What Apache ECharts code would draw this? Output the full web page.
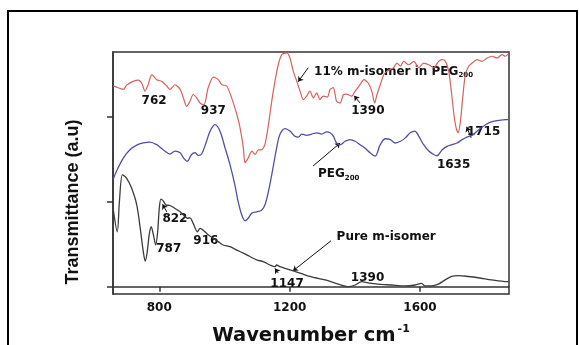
<!DOCTYPE html>
<html><head><meta charset="utf-8">
<script src="https://cdn.jsdelivr.net/npm/echarts@6/dist/echarts.min.js"></script>
<style>
html,body{margin:0;padding:0;background:#fff}
#c{width:579px;height:345px;position:absolute;left:0;top:0}
#frame{position:absolute;left:7px;top:10px;width:567px;height:345px;border:2px solid #000;border-bottom:none;pointer-events:none}
</style>
</head><body><div id="c"></div><div id="frame"></div>
<script>
// Axis ticks
const xTicks = [800, 1200, 1600];
const yTicks = [0, 20, 40];

// 11% m-isomer in PEG200 (red)
const redW = [659,674,690,700,720,736,746,756,766,777,792,807,823,833,848,864,874,884,894,904,915,925,937,950,966,981,992,1007,1022,1038,1048,1058,1063,1073,1084,1094,1104,1114,1124,1135,1145,1155,1165,1176,1191,1201,1211,1222,1232,1242,1252,1262,1273,1283,1293,1303,1316,1324,1334,1344,1355,1365,1375,1390,1401,1416,1428,1441,1452,1461,1468,1478,1489,1499,1509,1519,1529,1540,1550,1565,1581,1596,1611,1627,1642,1657,1668,1678,1688,1696,1704,1711,1717,1724,1731,1739,1750,1760,1775,1790,1806,1821,1836,1852,1862,1872];
const redT = [47.2,46.8,46.4,47.4,48.3,48.6,47.9,46.0,47.5,49.9,48.7,48.3,47.2,46.4,47.5,46.4,44.4,42.4,43.6,45.2,44.4,43.2,42.8,46.8,49.3,48.7,47.5,47.2,44.4,40.5,37.3,32.6,29.1,30.3,31.9,31.1,32.2,32.2,33.4,38.1,43.6,48.3,52.2,54.6,55.0,53.8,50.7,48.3,46.0,44.0,44.8,46.0,44.4,45.6,44.0,44.8,44.6,46.4,46.8,43.6,43.2,45.2,45.3,44.8,46.0,47.5,48.7,47.9,46.0,43.2,45.2,47.5,49.9,50.7,51.1,51.5,52.6,51.9,53.0,52.2,53.0,51.5,52.6,52.2,51.5,53.0,53.4,53.0,50.7,46.0,40.5,37.3,36.2,38.9,44.4,49.9,51.9,52.6,53.4,53.0,53.8,54.2,53.8,54.6,54.2,54.8];

// PEG200 (blue)
const blueW = [659,669,690,710,731,751,771,792,812,833,848,864,874,886,899,910,920,930,945,956,971,986,1002,1017,1032,1042,1053,1063,1073,1084,1099,1114,1124,1135,1145,1160,1170,1186,1201,1216,1227,1237,1252,1268,1283,1298,1314,1324,1334,1344,1355,1370,1385,1401,1416,1431,1447,1462,1478,1494,1509,1524,1540,1555,1570,1584,1596,1611,1627,1642,1652,1668,1683,1698,1714,1729,1744,1760,1780,1801,1821,1842,1862,1872];
const blueT = [25.3,27.2,30.3,32.2,33.3,33.8,34.0,33.4,32.2,31.2,31.9,31.5,30.3,29.5,31.1,31.5,30.9,31.2,34.2,36.6,38.1,36.6,32.6,28.7,23.9,20.0,16.9,15.5,16.1,17.3,17.6,18.0,19.2,22.4,26.3,32.6,35.8,37.2,36.6,35.4,35.2,35.9,35.6,35.9,36.2,35.9,36.4,36.2,35.4,33.8,33.4,34.2,34.6,34.2,33.4,32.6,31.5,30.7,33.4,34.8,34.6,33.8,34.2,35.0,36.2,36.6,35.4,33.4,31.9,31.1,30.8,32.2,33.0,33.4,33.8,34.6,35.2,35.6,36.9,38.1,38.8,39.1,39.3,39.3];

// Pure m-isomer (black)
const blackW = [659,671,678,687,700,715,731,743,751,757,763,769,775,782,789,795,800,805,812,821,833,848,864,879,886,894,904,917,925,935,950,966,981,996,1017,1038,1058,1078,1099,1119,1140,1155,1160,1170,1191,1211,1232,1262,1278,1309,1349,1380,1401,1421,1441,1472,1513,1554,1585,1605,1615,1636,1656,1677,1697,1718,1748,1779,1820,1861,1871];
const blackT = [18.0,12.9,20.4,26.3,25.5,23.2,19.2,12.9,8.2,6.0,8.2,12.2,14.1,12.2,9.8,12.9,18.4,20.6,20.2,19.2,19.1,18.4,17.6,16.5,16.1,16.2,14.9,12.9,13.7,13.3,12.2,11.4,10.6,9.8,9.4,8.6,7.9,7.1,6.3,5.9,5.1,4.7,5.1,4.7,4.2,3.7,3.2,2.4,2.1,1.6,0.6,0.0,0.4,1.2,0.9,0.6,0.4,0.2,0.4,0.8,0.2,0.2,0.6,1.6,2.4,2.6,2.4,2.1,1.6,1.2,1.2];

// Annotations (anchor in data units)
const noteText = ['762','937','1390','11% m-isomer in PEG{s|200}','1715','1635','PEG{s|200}','Pure m-isomer','1147','1390','822','787','916'];
const noteW = [784,966,1440,1275,1795,1703,1287,1344,1192,1439,848,829,943];
const noteT = [43.7,41.3,41.3,50.6,36.4,28.6,26.5,11.8,0.6,2.0,15.9,8.8,10.8];
const noteLeft = [false,false,false,true,false,false,true,true,false,false,false,false,false];

// Arrows: from -> to (data units)
const arrowFromW = [1257,1416,1272,1327,1165,823,1757];
const arrowFromT = [51.5,43.2,28.4,10.8,3.2,17.6,35.0];
const arrowToW   = [1226,1398,1355,1210,1155,810,1743];
const arrowToT   = [48.2,44.9,33.8,3.7,4.3,19.4,37.6];

const zip = (a, b) => a.map((v, i) => [v, b[i]]);
const FONT = '"DejaVu Sans", sans-serif';

const chart = echarts.init(document.getElementById('c'), null, {renderer: 'canvas'});
const richSub = { s: { fontSize: 7, fontWeight: 'bold', fontFamily: FONT, color: '#111', padding: [8, 0, 0, 0] } };

chart.setOption({
  animation: false,
  backgroundColor: 'transparent',
  grid: { left: 113, top: 52, right: 70, bottom: 51, containLabel: false, outerBoundsMode: 'none',
    show: true, borderColor: '#333', borderWidth: 1.5, backgroundColor: 'transparent' },
  xAxis: {
    type: 'value', min: 658, max: 1873,
    axisLine: { show: true, lineStyle: { color: '#333', width: 1.5 } },
    axisTick: { show: true, customValues: xTicks, length: 5, lineStyle: { color: '#333', width: 1.5 } },
    axisLabel: { show: true, customValues: xTicks, formatter: v => String(v), margin: 8, color: '#111', fontFamily: FONT, fontWeight: 'bold', fontSize: 12 },
    splitLine: { show: false },
    name: 'Wavenumber cm{sup|-1}',
    nameLocation: 'middle', nameGap: 30,
    nameTextStyle: { color: '#111', fontFamily: FONT, fontWeight: 'bold', fontSize: 19.5,
      rich: { sup: { fontSize: 11, fontWeight: 'bold', fontFamily: FONT, color: '#111', padding: [0, 0, 12, 2] } } }
  },
  yAxis: {
    type: 'value', min: -1.72, max: 55.2,
    axisLine: { show: true, lineStyle: { color: '#333', width: 1.5 } },
    axisTick: { show: true, customValues: yTicks, length: 6, lineStyle: { color: '#333', width: 1.5 } },
    axisLabel: { show: false },
    splitLine: { show: false }
  },
  graphic: [{
    type: 'text', x: 73, y: 202, rotation: Math.PI / 2,
    style: { text: 'Transmittance (a.u)', font: 'bold 18px "Liberation Sans", Arial, sans-serif', fill: '#111', align: 'center', verticalAlign: 'middle' }
  }],
  series: [
    { type: 'line', data: zip(redW, redT), showSymbol: false, smooth: 0.25, lineStyle: { color: '#d6615d', width: 1.2 } },
    { type: 'line', data: zip(blueW, blueT), showSymbol: false, smooth: 0.35, lineStyle: { color: '#4f4fa6', width: 1.3 } },
    { type: 'line', data: zip(blackW, blackT), showSymbol: false, smooth: 0.3, lineStyle: { color: '#3c3c3c', width: 1.3 } },
    {
      type: 'lines', coordinateSystem: 'cartesian2d', symbol: ['none', 'arrow'], symbolSize: 5,
      lineStyle: { color: '#111', width: 1, opacity: 1 },
      data: arrowFromW.map((w, i) => ({ coords: [[w, arrowFromT[i]], [arrowToW[i], arrowToT[i]]] }))
    },
    {
      type: 'scatter', symbolSize: 0, silent: true, itemStyle: { opacity: 1 },
      data: noteText.map((t, i) => ({
        value: [noteW[i], noteT[i]],
        label: {
          show: true, formatter: t, opacity: 1,
          position: noteLeft[i] ? 'right' : 'inside', distance: 0,
          color: '#111', fontFamily: FONT, fontWeight: 'bold', fontSize: 12, rich: richSub
        }
      }))
    }
  ]
});
</script>
</body></html>
